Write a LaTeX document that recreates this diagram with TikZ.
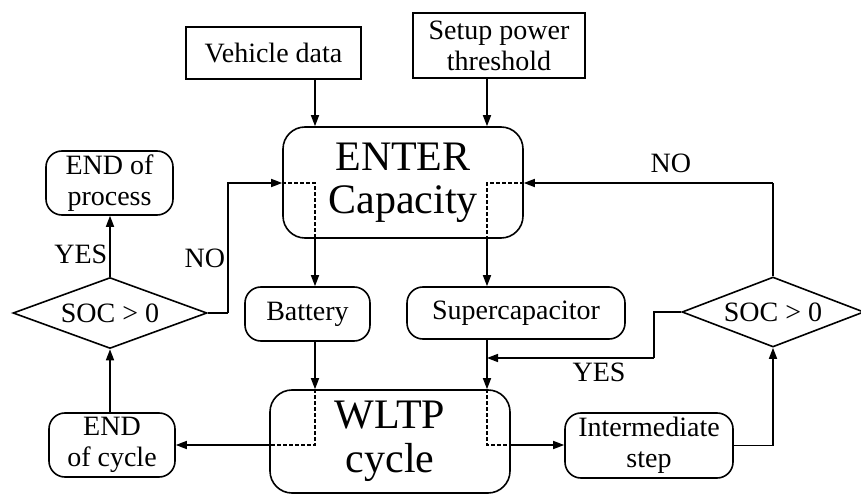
\documentclass[tikz,border=0pt]{standalone}
\usepackage{fontspec}
\setmainfont{Liberation Serif}
\usetikzlibrary{positioning, calc, arrows.meta, shapes.geometric}
\newcommand{\flowtext}{\fontsize{28bp}{31bp}\selectfont}
\newcommand{\flowbig}{\fontsize{42bp}{43bp}\selectfont}
\tikzset{
    databox/.style={rectangle, draw, line width=1.6bp, align=center, inner sep=0pt, font=\flowtext},
    roundbox/.style={rectangle, rounded corners=16bp, draw, line width=1.6bp, align=center, inner sep=0pt, font=\flowtext},
    mainbox/.style={rectangle, rounded corners=22bp, draw, line width=1.6bp, align=center, inner sep=0pt, font=\flowbig, minimum width=240bp},
    decision/.style={diamond, draw, line width=1.6bp, aspect=3, inner sep=0pt, font=\flowtext},
    arrow/.style={-{Triangle[length=11bp,width=8bp]}, line width=1.6bp},
    link/.style={line width=1.6bp},
    dashline/.style={line width=1.6bp, dash pattern=on 3.5bp off 2.5bp},
    lbl/.style={font=\flowtext, inner sep=1bp},
}
\begin{document}
\begin{tikzpicture}[x=1bp, y=-1bp]
    \useasboundingbox (0,0) rectangle (861,494);

    \node[databox, minimum width=175bp, minimum height=52bp] (veh) at (273.5,53) {Vehicle data};
    \node[databox, minimum width=172bp, minimum height=65bp] (setup) at (499,45.5) {Setup power\\threshold};
    \node[mainbox, minimum height=111bp] (enter) at (403,182.5) {ENTER\\Capacity};
    \node[roundbox, minimum width=125bp, minimum height=54bp] (bat) at (307.5,314) {Battery};
    \node[roundbox, minimum width=218bp, minimum height=52bp] (scap) at (516,313) {Supercapacitor};
    \node[mainbox, minimum height=103bp, font=\fontsize{42bp}{44bp}\selectfont] (wltp) at (390,441.5) {WLTP\\cycle};
    \node[roundbox, minimum width=126bp, minimum height=64bp] (endcyc) at (112,445) {END\\of cycle};
    \node[roundbox, minimum width=127bp, minimum height=64bp] (endproc) at (109.5,183) {END of\\process};
    \node[roundbox, minimum width=168bp, minimum height=65bp] (inter) at (649,445.5) {Intermediate\\step};
    \node[decision, minimum width=194bp, minimum height=71bp] (socl) at (110,313) {SOC > 0};
    \node[decision, minimum width=182bp, minimum height=70bp] (socr) at (773,312) {SOC > 0};

    \coordinate (eL) at (315,183);
    \coordinate (eR) at (487,183);
    \coordinate (wL) at (315,445);
    \coordinate (wR) at (487,445);
    \coordinate (yj) at (487,358);

    \draw[arrow] (veh.south -| eL) -- (enter.north -| eL);
    \draw[arrow] (setup.south -| eR) -- (enter.north -| eR);

    \draw[dashline] (enter.west |- eL) -- (eL) -- (enter.south -| eL);
    \draw[dashline] (enter.east |- eR) -- (eR) -- (enter.south -| eR);
    \draw[arrow] (enter.south -| eL) -- (bat.north -| eL);
    \draw[arrow] (enter.south -| eR) -- (scap.north -| eR);

    \draw[arrow] (bat.south -| wL) -- (wltp.north -| wL);
    \draw[arrow] (scap.south -| wR) -- (wltp.north -| wR);

    \draw[dashline] (wltp.north -| wL) -- (wL) -- (wltp.west |- wL);
    \draw[dashline] (wltp.north -| wR) -- (wR) -- (wltp.east |- wR);
    \draw[arrow] (wltp.west |- wL) -- (endcyc.east |- wL);
    \draw[arrow] (wltp.east |- wR) -- (inter.west |- wR);

    \draw[arrow] (endcyc.north -| socl) -- (socl.south);
    \draw[arrow] (socl.north) -- node[lbl, pos=0.37, left=1bp] {YES} (endproc.south -| socl);
    \draw[link] (socl.east) -- ++(20,0) coordinate (nl);
    \draw[arrow] (nl) -- node[lbl, pos=0.42, left=1bp] {NO} (nl |- eL) -- (enter.west |- eL);

    \draw[arrow] (inter.east) -| (socr.south);
    \draw[link] (socr.west) -- ++(-27,0) coordinate (yl) -- (yl |- yj);
    \draw[arrow] (yl |- yj) -- node[lbl, pos=0.33, below=3bp] {YES} (yj);
    \draw[link] (socr.north) -- (socr.north |- eR);
    \draw[arrow] (socr.north |- eR) -- node[lbl, pos=0.41, above=8bp] {NO} (enter.east |- eR);
\end{tikzpicture}
\end{document}
